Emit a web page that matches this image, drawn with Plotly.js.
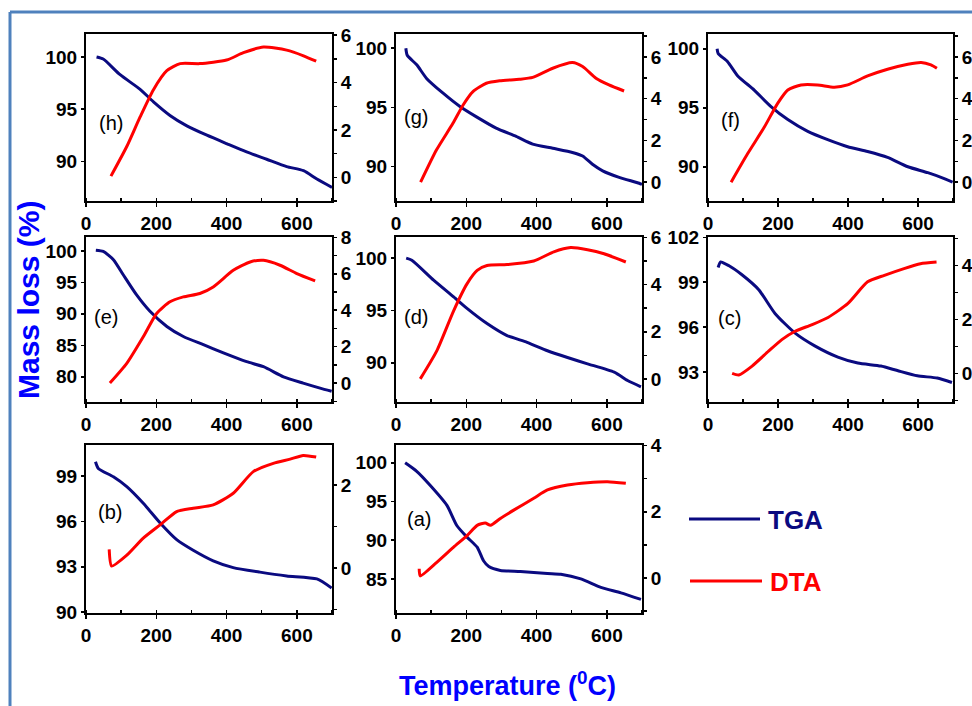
<!DOCTYPE html>
<html><head><meta charset="utf-8">
<script src="https://cdn.plot.ly/plotly-3.0.1.min.js"></script>
<style>html,body{margin:0;padding:0;background:#fff}#chart{width:972px;height:706px}</style>
</head><body><div id="chart"></div>
<script>
// Panel labels, in drawing order (row by row)
const panelLabels = ['(h)','(g)','(f)','(e)','(d)','(c)','(b)','(a)'];

// TGA (mass %) vs temperature
const tgaT_h = [30,49,97,154,192,239,287,344,400,457,514,571,619,657,700];
const tga_h  = [100.0,99.8,98.3,96.9,95.7,94.4,93.4,92.5,91.7,90.9,90.2,89.5,89.1,88.3,87.5];
const tgaT_g = [28,32,59,87,134,181,229,285,342,389,446,502,531,559,588,635,692,700];
const tga_g  = [100,99.4,98.6,97.45,96.2,95.1,94.2,93.25,92.55,91.9,91.55,91.2,90.9,90.2,89.65,89.1,88.6,88.5];
const tgaT_f = [26,29,56,85,132,180,228,285,342,399,456,513,571,628,675,699];
const tga_f  = [100,99.6,98.9,97.7,96.5,95.1,94.0,93.0,92.3,91.7,91.3,90.8,90.0,89.5,89.0,88.7];
const tgaT_e = [28,49,78,106,144,182,230,277,334,391,457,505,562,618,666,699];
const tga_e  = [100.1,99.9,98.6,96.2,93.0,90.4,88.0,86.4,85.1,83.8,82.4,81.6,80.0,79.0,78.2,77.7];
const tgaT_d = [29,45,107,164,202,259,316,373,431,488,545,621,659,697];
const tga_d  = [100,99.8,97.9,96.3,95.2,93.75,92.6,91.95,91.15,90.5,89.9,89.1,88.3,87.7];
const tgaT_c = [29,36,60,97,145,192,249,305,371,428,494,541,598,655,697];
const tga_c  = [99.98,100.35,100.1,99.5,98.5,96.9,95.6,94.75,94.0,93.6,93.4,93.1,92.75,92.6,92.3];
const tgaT_b = [27,35,78,116,163,211,258,305,362,419,495,571,657,699];
const tga_b  = [99.94,99.5,98.95,98.3,97.2,95.9,94.8,94.1,93.4,92.95,92.65,92.4,92.2,91.6];
const tgaT_a = [26,59,97,145,173,202,231,249,264,297,354,431,469,526,583,640,697];
const tga_a  = [100,98.9,97.1,94.5,91.9,90.4,89.1,87.35,86.6,86.1,85.96,85.7,85.6,85.0,83.9,83.2,82.35];

// DTA vs temperature
const dtaT_h = [71,116,154,192,230,268,324,400,448,505,571,619,655];
const dta_h  = [0.05,1.3,2.55,3.7,4.5,4.8,4.8,4.95,5.26,5.5,5.37,5.13,4.9];
const dtaT_g = [70,115,162,191,219,257,295,351,389,446,502,531,569,606,649];
const dta_g  = [0,1.54,2.82,3.7,4.34,4.74,4.86,4.93,5.02,5.46,5.73,5.54,4.98,4.66,4.37];
const dtaT_f = [66,113,161,199,228,266,313,361,399,456,513,571,609,637,654];
const dta_f  = [0,1.36,2.64,3.78,4.42,4.66,4.66,4.55,4.66,5.09,5.41,5.65,5.74,5.62,5.46];
const dtaT_e = [68,116,163,201,239,277,324,362,419,467,505,552,600,652];
const dta_e  = [0,1.08,2.54,3.82,4.46,4.73,4.92,5.28,6.19,6.65,6.74,6.47,6.01,5.61];
const dtaT_d = [69,116,164,202,231,259,316,392,449,497,545,592,654];
const dta_d  = [0,1.19,2.89,4.03,4.6,4.81,4.85,5.0,5.39,5.57,5.48,5.31,4.96];
const dtaT_c = [69,88,126,173,211,249,296,343,400,456,504,560,607,653];
const dta_c  = [0,-0.06,0.27,0.82,1.25,1.56,1.8,2.07,2.59,3.39,3.63,3.88,4.06,4.12];
const dtaT_b = [66,73,116,163,211,258,305,362,419,476,533,581,618,655];
const dta_b  = [0.45,0.05,0.31,0.72,1.04,1.36,1.44,1.52,1.8,2.32,2.52,2.62,2.71,2.67];
const dtaT_a = [66,69,116,164,202,231,254,269,297,335,392,431,488,545,602,654];
const dta_a  = [0.28,0.06,0.47,0.93,1.28,1.59,1.66,1.59,1.8,2.05,2.41,2.66,2.81,2.88,2.91,2.86];

// Axis ranges / tick steps
const leftRange  = [[86.2,102.2],[87.1,101.2],[87.1,101.25],[76,102.2],[86.25,102.02],[91,102.02],[89.95,101.05],[80.6,102.3]];
const leftDtick  = [5,5,5,5,5,3,3,5];
const rightRange = [[-1.0,6.05],[-0.9,7.1],[-0.9,7.1],[-1.04,8.02],[-0.98,6.02],[-1.06,5.05],[-1.08,2.96],[-1.06,4.02]];
const xTicks = [0,200,400,600];

const tgaX = [tgaT_h,tgaT_g,tgaT_f,tgaT_e,tgaT_d,tgaT_c,tgaT_b,tgaT_a];
const tgaY = [tga_h,tga_g,tga_f,tga_e,tga_d,tga_c,tga_b,tga_a];
const dtaX = [dtaT_h,dtaT_g,dtaT_f,dtaT_e,dtaT_d,dtaT_c,dtaT_b,dtaT_a];
const dtaY = [dta_h,dta_g,dta_f,dta_e,dta_d,dta_c,dta_b,dta_a];

const W = 972, H = 706;
const colPx = [[86,332],[396,642],[708,953]];
const rowPx = [[34,201],[237,402],[445,613]];
const labelPos = [[0.045,0.467],[0.023,0.505],[0.045,0.485],[0.023,0.517],[0.023,0.514],[0.032,0.51],[0.041,0.603],[0.036,0.561]];

const FONT = 'Arial, "Liberation Sans", Helvetica, sans-serif';
const NAVY = '#0a0a80', RED = '#ff0000';
const TICK_SIZE = 19;

const nm = k => (k === 1 ? '' : String(k));
const tf = () => ({family: FONT, size: TICK_SIZE, color: '#000', weight: 'bold'});
const traces = [];
const layout = {
  width: W, height: H, margin: {l:0, r:0, t:0, b:0},
  font: {family: FONT, size: TICK_SIZE, color: '#000'},
  paper_bgcolor: '#fff', plot_bgcolor: 'rgba(0,0,0,0)',
  showlegend: false, annotations: [], shapes: []
};

for (let i = 0; i < 8; i++) {
  const k = i + 1, r = Math.floor(i / 3), c = i % 3;
  const xd = [colPx[c][0] / W, colPx[c][1] / W];
  const yd = [1 - rowPx[r][1] / H, 1 - rowPx[r][0] / H];
  const yl = 2 * i + 1, yr = 2 * i + 2;
  layout['xaxis' + nm(k)] = {
    domain: xd, anchor: 'y' + nm(yl), range: [0, 700], tickmode: 'array', tickvals: xTicks,
    showline: true, linecolor: '#000', linewidth: 2, mirror: true,
    ticks: 'outside', ticklen: 4, tickwidth: 1.5, tickcolor: '#000',
    minor: {dtick: 100, tick0: 0, ticks: 'inside', ticklen: 3, tickcolor: '#000'},
    showgrid: false, zeroline: false, tickfont: tf(), fixedrange: true
  };
  layout['yaxis' + nm(yl)] = {
    domain: yd, anchor: 'x' + nm(k), range: leftRange[i], dtick: leftDtick[i], tick0: 0,
    showline: true, linecolor: '#000', linewidth: 2,
    ticks: 'outside', ticklen: 3, tickwidth: 1.5, tickcolor: '#000',
    showgrid: false, zeroline: false, tickfont: tf(), fixedrange: true
  };
  layout['yaxis' + nm(yr)] = {
    overlaying: 'y' + nm(yl), side: 'right', anchor: 'x' + nm(k), range: rightRange[i],
    dtick: 2, tick0: 0,
    showline: true, linecolor: '#000', linewidth: 2,
    ticks: 'outside', ticklen: 3, tickwidth: 1.5, tickcolor: '#000',
    minor: {dtick: 1, tick0: 0, ticks: 'outside', ticklen: 3, tickcolor: '#000'},
    showgrid: false, zeroline: false, tickfont: tf(), fixedrange: true
  };
  traces.push({x: tgaX[i], y: tgaY[i], xaxis: 'x' + nm(k), yaxis: 'y' + nm(yl), type: 'scatter', mode: 'lines',
    name: 'TGA', line: {color: NAVY, width: 3, shape: 'spline', smoothing: 0.6}, hoverinfo: 'skip'});
  traces.push({x: dtaX[i], y: dtaY[i], xaxis: 'x' + nm(k), yaxis: 'y' + nm(yr), type: 'scatter', mode: 'lines',
    name: 'DTA', line: {color: RED, width: 3, shape: 'spline', smoothing: 0.6}, hoverinfo: 'skip'});
  layout.annotations.push({
    text: panelLabels[i], xref: 'x' + nm(k) + ' domain', yref: 'y' + nm(yl) + ' domain',
    x: labelPos[i][0], y: labelPos[i][1], xanchor: 'left', yanchor: 'middle', showarrow: false,
    font: {family: FONT, size: 20, color: '#000'}
  });
}

// Outer frame (top and left border)
layout.shapes.push({type:'line', xref:'paper', yref:'paper', x0: 10/W, x1: 1, y0: 1-12/H, y1: 1-12/H, line:{color:'#4f81bd', width:3}});
layout.shapes.push({type:'line', xref:'paper', yref:'paper', x0: 10/W, x1: 10/W, y0: 0, y1: 1-12/H, line:{color:'#4f81bd', width:3}});

// Legend (drawn)
layout.shapes.push({type:'line', xref:'paper', yref:'paper', x0: 689/W, x1: 760/W, y0: 1-519/H, y1: 1-519/H, line:{color:NAVY, width:3}});
layout.shapes.push({type:'line', xref:'paper', yref:'paper', x0: 690/W, x1: 762/W, y0: 1-581/H, y1: 1-581/H, line:{color:RED, width:3}});
layout.annotations.push({text:'<b>TGA</b>', xref:'paper', yref:'paper', x: 766/W, y: 1-520/H, xanchor:'left', yanchor:'middle', showarrow:false,
  font:{family:FONT, size:26, color:NAVY}});
layout.annotations.push({text:'<b>DTA</b>', xref:'paper', yref:'paper', x: 768/W, y: 1-582/H, xanchor:'left', yanchor:'middle', showarrow:false,
  font:{family:FONT, size:26, color:RED}});

// Global axis titles
layout.annotations.push({text:'<b>Mass loss (%)</b>', xref:'paper', yref:'paper', x: 29/W, y: 1-300/H, xanchor:'center', yanchor:'middle',
  textangle:-90, showarrow:false, font:{family:FONT, size:30, color:'#0000ff'}});
layout.annotations.push({text:'<b>Temperature (<sup>0</sup>C)</b>', xref:'paper', yref:'paper', x: 507/W, y: 1-684/H, xanchor:'center', yanchor:'middle',
  showarrow:false, font:{family:FONT, size:27, color:'#0000ff'}});

Plotly.newPlot('chart', traces, layout, {staticPlot: true, displayModeBar: false});
</script>
</body></html>
